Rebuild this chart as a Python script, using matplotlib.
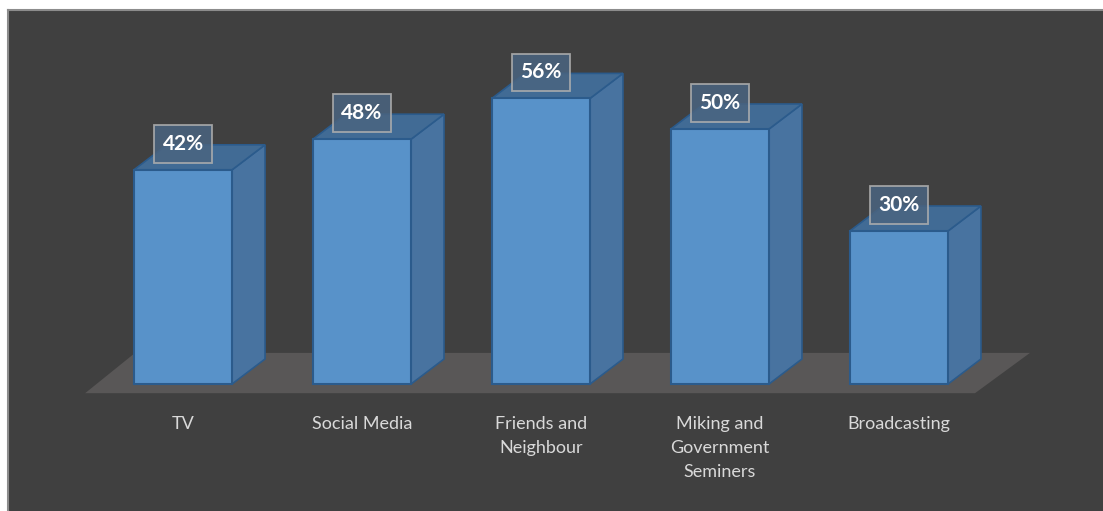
import matplotlib.pyplot as plt
from matplotlib.patches import Polygon, Rectangle

categories = ["TV", "Social Media", "Friends and\nNeighbour",
              "Miking and\nGovernment\nSeminers", "Broadcasting"]
values = [42, 48, 56, 50, 30]

bg = "#404040"
front_col = "#5892c9"
side_col = "#4873a0"
top_col = "#416b95"
edge_col = "#2b5b8c"
floor_col = "#595757"

w = 0.274      # half bar width (data units)
dx = 0.184     # depth offset in x
dy = 4.9       # depth offset in y

fig = plt.figure(figsize=(11.03, 5.11), dpi=100, facecolor="white")
ax = fig.add_axes([8 / 1103, 0, 1095 / 1103, 501 / 511])
ax.set_facecolor(bg)
ax.set_xlim(-0.978, 5.14)
ax.set_ylim(-24.9, 73.33)
ax.set_xticks([])
ax.set_yticks([])
for s in ["right", "bottom"]:
    ax.spines[s].set_visible(False)
for s in ["left", "top"]:
    ax.spines[s].set_color("#8c8c8c")
    ax.spines[s].set_linewidth(1.5)

# floor
n = len(values)
fl, fr = -0.547, n - 1 + 0.425
floor = Polygon([(fl, -1.8), (fr, -1.8), (fr + 0.307, 6.1), (fl + 0.279, 6.1)],
                closed=True, facecolor=floor_col, edgecolor="none", zorder=1)
ax.add_patch(floor)

for i, v in enumerate(values):
    side = Polygon([(i + w, 0), (i + w + dx, dy), (i + w + dx, v + dy), (i + w, v)],
                   closed=True, facecolor=side_col, edgecolor=edge_col, lw=1.2, zorder=2)
    top = Polygon([(i - w, v), (i + w, v), (i + w + dx, v + dy), (i - w + dx, v + dy)],
                  closed=True, facecolor=top_col, edgecolor=edge_col, lw=1.2, zorder=2)
    front = Rectangle((i - w, 0), 2 * w, v, facecolor=front_col,
                      edgecolor=edge_col, lw=1.5, zorder=3)
    ax.add_patch(side)
    ax.add_patch(top)
    ax.add_patch(front)
    ax.text(i, v + 5.1, "%d%%" % v, ha="center", va="center", color="white",
            fontsize=15, fontweight="bold", family="Lato", zorder=5,
            bbox=dict(boxstyle="square,pad=0.42", facecolor="#4a6480", alpha=0.85,
                      edgecolor="#b0b0b0", lw=1.3))
    ax.text(i, -6.3, categories[i], ha="center", va="top", color="#d9d9d9",
            fontsize=13, family="Lato", linespacing=1.6, zorder=5)

fig.savefig("out.png", dpi=100, facecolor="white")
